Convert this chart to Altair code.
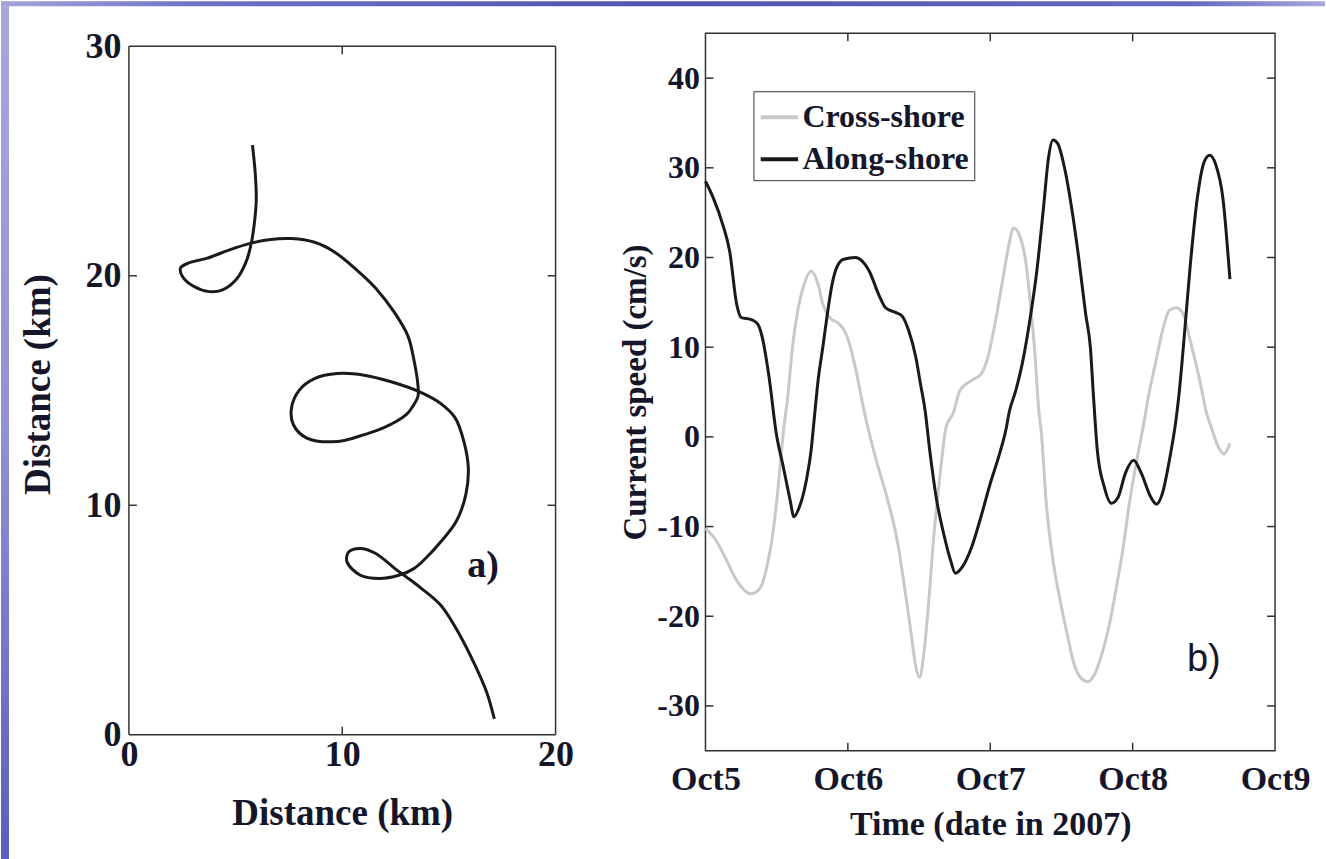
import altair as alt
import pandas as pd

# ---------------- data ----------------
# panel a) drifter trajectory (km), in path order
traj_x = [5.79, 5.92, 5.97, 5.90, 5.74, 5.47, 5.02, 4.39, 3.77, 3.05, 2.51, 2.42, 2.78, 3.68,
          4.75, 5.65, 6.55, 7.62, 8.70, 9.60, 10.67, 11.57, 12.47, 13.09, 13.36, 13.54, 13.55,
          13.30, 13.0, 11.93, 11.03, 9.78, 8.34, 7.71, 7.62, 7.98, 8.70, 9.78, 11.03, 12.29,
          13.63, 14.62, 15.30, 15.70, 15.91, 15.79, 15.34, 14.62, 13.90, 13.36, 12.65, 11.75,
          10.85, 10.22, 10.31, 10.85, 11.57, 12.47, 13.0, 13.72, 14.62, 15.52, 16.23, 16.77, 17.13]
traj_y = [25.69, 24.49, 23.32, 22.45, 21.43, 20.55, 19.83, 19.39, 19.31, 19.53, 19.97, 20.34, 20.55, 20.77,
          21.14, 21.40, 21.57, 21.62, 21.46, 21.06, 20.26, 19.46, 18.37, 17.35, 16.33, 15.31, 14.75,
          14.30, 13.95, 13.37, 13.08, 12.78, 12.93, 13.51, 14.24, 15.01, 15.52, 15.74, 15.67, 15.38,
          14.94, 14.43, 13.80, 12.78, 11.62, 10.45, 9.29, 8.41, 7.68, 7.24, 6.95, 6.81,
          6.95, 7.54, 7.97, 8.12, 7.90, 7.24, 6.88, 6.37, 5.64, 4.33, 3.02, 1.85, 0.69]

# panel b) current speed (cm/s); time in days after Oct 5 2007 00:00
cross_days = [0.000, 0.072, 0.137, 0.219, 0.317, 0.382, 0.431, 0.480, 0.513, 0.546, 0.578, 0.611,
              0.644, 0.693, 0.742, 0.791, 0.824, 0.873, 0.938, 0.987, 1.036, 1.085, 1.118, 1.199,
              1.281, 1.346, 1.395, 1.444, 1.477, 1.503, 1.536, 1.569, 1.601, 1.641, 1.690, 1.739,
              1.788, 1.869, 1.935, 1.984, 2.033, 2.082, 2.131, 2.163, 2.212, 2.245, 2.278, 2.310,
              2.343, 2.359, 2.392, 2.441, 2.490, 2.539, 2.588, 2.637, 2.686, 2.735, 2.784, 2.833,
              2.882, 2.931, 2.980, 3.029, 3.078, 3.111, 3.160, 3.209, 3.258, 3.307, 3.356, 3.405,
              3.471, 3.520, 3.552, 3.601, 3.641, 3.683]
cross_vals = [-10.2, -11.5, -13.4, -16.0, -17.5, -16.9, -14.5, -10.0, -5.2, 0.4, 4.5, 10.0,
              13.7, 17.0, 18.5, 17.0, 14.8, 13.3, 12.6, 11.5, 8.9, 5.2, 2.6, -2.6,
              -7.1, -11.5, -16.4, -21.9, -25.6, -26.8, -23.8, -18.2, -11.5, -5.2, 1.1, 2.6,
              5.2, 6.3, 7.0, 8.9, 12.6, 17.0, 21.4, 23.3, 22.2, 20.0, 15.5, 10.0,
              2.6, 0.4, -7.1, -13.8, -18.2, -21.9, -25.3, -26.9, -27.3, -26.4, -24.2, -21.2,
              -17.1, -12.6, -7.1, -2.6, 1.5, 4.5, 8.2, 11.8, 14.1, 14.4, 13.7, 10.7,
              6.3, 2.6, 1.1, -1.1, -1.9, -0.7]

along_days = [0.000, 0.056, 0.121, 0.170, 0.219, 0.252, 0.317, 0.366, 0.399, 0.448, 0.497, 0.546,
              0.595, 0.621, 0.660, 0.709, 0.742, 0.765, 0.791, 0.824, 0.856, 0.889, 0.922, 0.971,
              1.052, 1.101, 1.150, 1.216, 1.265, 1.330, 1.379, 1.428, 1.477, 1.510, 1.542, 1.575,
              1.624, 1.673, 1.722, 1.755, 1.804, 1.869, 1.935, 2.000, 2.065, 2.114, 2.131, 2.180,
              2.229, 2.278, 2.327, 2.376, 2.408, 2.441, 2.474, 2.523, 2.572, 2.621, 2.670, 2.703,
              2.725, 2.752, 2.801, 2.850, 2.899, 2.948, 3.007, 3.062, 3.127, 3.167, 3.209, 3.258,
              3.307, 3.324, 3.356, 3.405, 3.454, 3.503, 3.542, 3.585, 3.634, 3.683]
along_vals = [28.5, 26.6, 23.7, 20.7, 14.8, 13.3, 13.1, 12.6, 11.1, 6.5, 0.4, -3.3,
              -7.1, -8.9, -7.8, -4.8, -1.5, 2.2, 6.3, 10.0, 13.7, 17.0, 18.9, 19.8,
              20.0, 19.6, 18.5, 15.9, 14.4, 13.9, 13.5, 11.8, 8.9, 5.9, 3.0, -1.5,
              -7.1, -10.8, -13.8, -15.2, -14.5, -12.3, -8.9, -5.2, -1.9, 1.1, 2.6, 5.2,
              8.5, 13.0, 18.5, 25.9, 31.0, 33.1, 32.7, 29.9, 25.5, 20.0, 13.7, 10.0,
              4.5, -1.5, -5.6, -7.4, -6.7, -4.1, -2.6, -4.1, -6.7, -7.5, -6.3, -2.6,
              2.2, 4.5, 10.0, 19.2, 26.6, 30.7, 31.4, 30.3, 26.6, 17.6]

series_names = ["Cross-shore", "Along-shore"]
series_colors = ["#c8c8c8", "#1a1a1a"]
date_labels = ["Oct5", "Oct6", "Oct7", "Oct8", "Oct9"]

left_xticks = [10]
left_yticks = [10, 20]
right_xticks = [1, 2, 3]
right_yticks = [-30, -20, -10, 0, 10, 20, 30, 40]

# ---------------- styling ----------------
SERIF = "Liberation Serif"
TXT = "#16162a"
BOX = "#333333"
TICK = 8

LW, LH = 427, 702          # left panel area (frame sits 13 px below its top)
RW, RH = 570, 718
L_YMAX = 30 * LH / 689.0   # domain top so that 0..30 spans 689 px
LPX_X = 20 / LW            # km per px, x
LPX_Y = L_YMAX / LH        # km per px, y

traj = pd.DataFrame({"x": traj_x, "y": traj_y, "i": range(len(traj_x))})
ts = pd.concat([
    pd.DataFrame({"t": cross_days, "v": cross_vals, "s": series_names[0]}),
    pd.DataFrame({"t": along_days, "v": along_vals, "s": series_names[1]}),
])

lx = alt.Scale(domain=[0, 20], nice=False, zero=False)
ly = alt.Scale(domain=[0, L_YMAX], nice=False, zero=False)
rx = alt.Scale(domain=[0, 4], nice=False, zero=False)
ry = alt.Scale(domain=[-35, 45], nice=False, zero=False)


def ax(title, fs_lab, fs_title, values, lab_pad, title_pad, label_expr="'' + datum.value"):
    return alt.Axis(title=title, values=values, labelFont=SERIF, labelFontWeight="bold",
                    labelFontSize=fs_lab, labelColor=TXT, titleFont=SERIF, titleFontWeight="bold",
                    titleFontSize=fs_title, titleColor=TXT, labelPadding=lab_pad,
                    titlePadding=title_pad, ticks=False, domain=False, grid=False,
                    labelFlush=False, labelOverlap=False, labelExpr=label_expr)


# ---------- slide decoration (page edge strip and header bar) ----------
one = pd.DataFrame({"k": [0]})
strip = alt.Chart(one).mark_rect(
    fill=alt.Gradient(gradient="linear", x1=0, x2=0, y1=0, y2=1,
                      stops=[alt.GradientStop(color="#a8a8dc", offset=0),
                             alt.GradientStop(color="#9090d4", offset=0.5),
                             alt.GradientStop(color="#5c5cc0", offset=1)])
).encode(x=alt.value(-128), x2=alt.value(-120), y=alt.value(-32), y2=alt.value(827))
header = alt.Chart(one).mark_rect(
    fill=alt.Gradient(gradient="linear", x1=0, x2=1, y1=0, y2=0,
                      stops=[alt.GradientStop(color="#a4a4da", offset=0),
                             alt.GradientStop(color="#7070c4", offset=0.15),
                             alt.GradientStop(color="#5252b0", offset=0.5),
                             alt.GradientStop(color="#6868c0", offset=0.9),
                             alt.GradientStop(color="#a8a8dc", offset=1)])
).encode(x=alt.value(-128), x2=alt.value(1197), y=alt.value(-32), y2=alt.value(-27))

# ---------- panel a ----------
a_line = alt.Chart(traj).mark_line(color="#1a1a1a", strokeWidth=3, interpolate="catmull-rom").encode(
    x=alt.X("x:Q", scale=lx, axis=ax("Distance (km)", 36, 37, [0, 10, 20], 3, 23)),
    y=alt.Y("y:Q", scale=ly, axis=ax("Distance (km)", 36, 37, [0, 10, 20, 30], 8, 27)),
    order="i:Q",
)
edges_x = pd.DataFrame({"v": [0, 20]})
edges_y = pd.DataFrame({"v": [0, 30]})
a_box = [
    alt.Chart(edges_x).mark_rule(color=BOX, strokeWidth=1.5).encode(x="v:Q", y=alt.datum(0), y2=alt.datum(30)),
    alt.Chart(edges_y).mark_rule(color=BOX, strokeWidth=1.5).encode(y="v:Q", x=alt.datum(0), x2=alt.datum(20)),
]
lxt = pd.DataFrame({"v": left_xticks})
lyt = pd.DataFrame({"v": left_yticks})
a_ticks = [
    alt.Chart(lxt).mark_rule(color=BOX, strokeWidth=1.5).encode(x="v:Q", y=alt.datum(30), y2=alt.datum(30 - TICK * LPX_Y)),
    alt.Chart(lxt).mark_rule(color=BOX, strokeWidth=1.5).encode(x="v:Q", y=alt.datum(0), y2=alt.datum(TICK * LPX_Y)),
    alt.Chart(lyt).mark_rule(color=BOX, strokeWidth=1.5).encode(y="v:Q", x=alt.datum(0), x2=alt.datum(TICK * LPX_X)),
    alt.Chart(lyt).mark_rule(color=BOX, strokeWidth=1.5).encode(y="v:Q", x=alt.datum(20), x2=alt.datum(20 - TICK * LPX_X)),
]
a_lab = alt.Chart(pd.DataFrame({"x": [16.6], "y": [7.35], "t": ["a)"]})).mark_text(
    font=SERIF, fontWeight="bold", fontSize=38, color=TXT, align="center", baseline="middle"
).encode(x="x:Q", y="y:Q", text="t:N")

left = alt.layer(strip, header, a_line, *a_box, *a_ticks, a_lab).properties(
    width=LW, height=LH, view=alt.ViewBackground(stroke="transparent"))

# ---------- panel b ----------
date_expr = "[" + ",".join("'%s'" % s for s in date_labels) + "][datum.value]"
b_lines = alt.Chart(ts).mark_line(strokeWidth=3, interpolate="monotone").encode(
    x=alt.X("t:Q", scale=rx, axis=ax("Time (date in 2007)", 34, 34, [0, 1, 2, 3, 4], 12, 11, date_expr)),
    y=alt.Y("v:Q", scale=ry, axis=ax("Current speed (cm/s)", 32, 33, right_yticks, 6, 4)),
    color=alt.Color("s:N", scale=alt.Scale(domain=series_names, range=series_colors),
                    legend=alt.Legend(title=None, orient="none", legendX=625, legendY=58,
                                      symbolType="stroke", symbolSize=1400, symbolStrokeWidth=4,
                                      labelFont=SERIF, labelFontWeight="bold", labelFontSize=32,
                                      labelColor=TXT, labelOffset=2, rowPadding=5, padding=5,
                                      strokeColor=BOX, fillColor="white", labelLimit=400)),
    detail="s:N",
)
rxt = pd.DataFrame({"v": right_xticks})
ryt = pd.DataFrame({"v": right_yticks})
b_ticks = [
    alt.Chart(rxt).mark_rule(color=BOX, strokeWidth=1.5).encode(x="v:Q", y=alt.value(0), y2=alt.value(TICK)),
    alt.Chart(rxt).mark_rule(color=BOX, strokeWidth=1.5).encode(x="v:Q", y=alt.value(RH), y2=alt.value(RH - TICK)),
    alt.Chart(ryt).mark_rule(color=BOX, strokeWidth=1.5).encode(y="v:Q", x=alt.value(0), x2=alt.value(TICK)),
    alt.Chart(ryt).mark_rule(color=BOX, strokeWidth=1.5).encode(y="v:Q", x=alt.value(RW), x2=alt.value(RW - TICK)),
]
b_lab = alt.Chart(pd.DataFrame({"x": [3.5], "y": [-24.9], "t": ["b)"]})).mark_text(
    font="Liberation Sans", fontSize=38, color=TXT, align="center", baseline="middle"
).encode(x="x:Q", y="y:Q", text="t:N")

right = alt.layer(b_lines, *b_ticks, b_lab).properties(
    width=RW, height=RH, view=alt.ViewBackground(stroke=BOX, strokeWidth=1.5))

chart = alt.hconcat(left, right, spacing=150, bounds="flush").properties(
    padding={"left": 0, "top": 0, "right": 0, "bottom": 0},
    background="white",
)

chart.save("out.html", embed_options={"renderer": "svg", "actions": False})
